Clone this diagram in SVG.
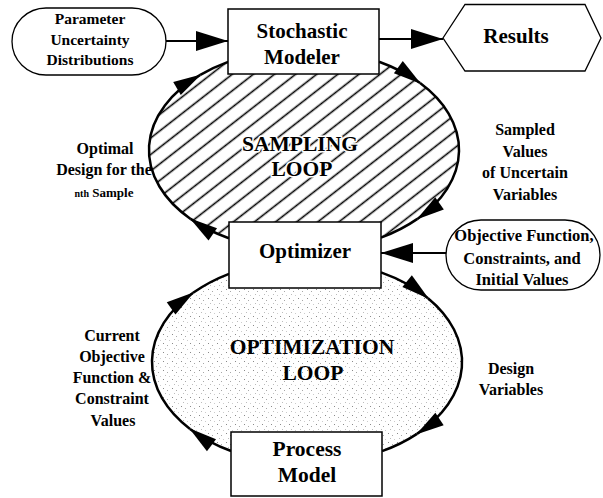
<svg xmlns="http://www.w3.org/2000/svg" width="603" height="498" viewBox="0 0 603 498">
  <style>
    .box { fill: #ffffff; stroke: #000000; stroke-width: 1.5; }
    .term { fill: #ffffff; stroke: #000000; stroke-width: 1.3; }
    .title { font-family: "Liberation Serif", "Times New Roman", serif; font-weight: bold; font-size: 21px; fill: #000000; text-anchor: middle; }
    .label { font-family: "Liberation Serif", "Times New Roman", serif; font-weight: bold; font-size: 16px; fill: #000000; text-anchor: middle; }
    .loopname { font-family: "Liberation Serif", "Times New Roman", serif; font-weight: bold; font-size: 21.5px; fill: #000000; text-anchor: middle; }
    .halo { stroke: #ffffff; stroke-width: 3; paint-order: stroke; stroke-linejoin: round; }
    .arc { fill: none; stroke: #000000; stroke-width: 2.5; marker-end: url(#loopHead); }
    .arc-plain { fill: none; stroke: #000000; stroke-width: 2.5; }
    .flow { fill: none; stroke: #000000; stroke-width: 2.2; marker-end: url(#bigHead); }
  </style>
  <defs>
    <!-- diagonal hatching for the sampling loop -->
    <pattern id="hatch" patternUnits="userSpaceOnUse" width="13" height="13" patternTransform="rotate(-38)">
      <line x1="0" y1="6.5" x2="13" y2="6.5" stroke="#000000" stroke-width="1.6"/>
    </pattern>
    <!-- light stipple for the optimization loop -->
    <pattern id="stipple" patternUnits="userSpaceOnUse" width="9" height="9">
      <rect x="1" y="1" width="1" height="1" fill="#8a8a8a"/>
      <rect x="5" y="3" width="1" height="1" fill="#a8a8a8"/>
      <rect x="3" y="6" width="1" height="1" fill="#bcbcbc"/>
      <rect x="7" y="7" width="1" height="1" fill="#cccccc"/>
    </pattern>
    <marker id="loopHead" markerUnits="userSpaceOnUse" markerWidth="28" markerHeight="15" viewBox="0 0 28 15" refX="27" refY="7.5" orient="auto" overflow="visible">
      <path d="M0,0 L28,7.5 L0,15 z" fill="#000000"/>
    </marker>
    <marker id="bigHead" markerUnits="userSpaceOnUse" markerWidth="32" markerHeight="20" viewBox="0 0 32 20" refX="32" refY="10" orient="auto">
      <path d="M0,0 L32,10 L0,20 z" fill="#000000"/>
    </marker>
  </defs>

  <rect x="0" y="0" width="603" height="498" fill="#ffffff"/>

  <!-- loop regions -->
  <g id="sampling-loop">
    <ellipse cx="304" cy="150" rx="155" ry="101" fill="#ffffff"/>
    <ellipse cx="304" cy="150" rx="155" ry="101" fill="url(#hatch)"/>
    <text class="loopname halo" x="300" y="151">SAMPLING</text>
    <text class="loopname halo" x="302" y="176">LOOP</text>
  </g>
  <g id="optimization-loop">
    <ellipse cx="307" cy="362" rx="155" ry="102" fill="#ffffff"/>
    <ellipse cx="307" cy="362" rx="155" ry="102" fill="url(#stipple)"/>
    <text class="loopname" x="312" y="354">OPTIMIZATION</text>
    <text class="loopname" x="313" y="380">LOOP</text>
  </g>

  <!-- connectors -->
  <g id="connectors">
    <!-- inputs and outputs -->
    <path class="flow" d="M166,41 L228,41"/>
    <path class="flow" d="M379,39 L443,39"/>
    <path class="flow" d="M446,253 L381,253"/>
    <!-- sampling loop, clockwise -->
    <path class="arc" d="M379.1,61.7 A155,101 0 0 1 420.1,83.1"/>
    <path class="arc" d="M420.1,83.1 A155,101 0 0 1 417.4,218.9"/>
    <path class="arc-plain" d="M417.4,218.9 A155,101 0 0 1 381,237.6"/>
    <path class="arc" d="M228.9,238.3 A155,101 0 0 1 190.6,218.9"/>
    <path class="arc" d="M190.6,218.9 A155,101 0 0 1 200.3,74.9"/>
    <path class="arc-plain" d="M200.3,74.9 A155,101 0 0 1 228.1,61.9"/>
    <!-- optimization loop, clockwise -->
    <path class="arc" d="M381,272.4 A155,102 0 0 1 428,298.2"/>
    <path class="arc" d="M428,298.2 A155,102 0 0 1 417,433.9"/>
    <path class="arc-plain" d="M417,433.9 A155,102 0 0 1 382.1,451.2"/>
    <path class="arc" d="M231.1,451 A155,102 0 0 1 190,428.9"/>
    <path class="arc" d="M190,428.9 A155,102 0 0 1 193.1,292.8"/>
    <path class="arc-plain" d="M193.1,292.8 A155,102 0 0 1 229,273.8"/>
  </g>

  <!-- nodes -->
  <g id="parameter-distributions">
    <rect class="term" x="12" y="8" width="154" height="67" rx="34" ry="33.5"/>
    <text class="label" style="font-size:15.5px" x="90" y="24">Parameter</text>
    <text class="label" style="font-size:15.5px" x="90" y="45">Uncertainty</text>
    <text class="label" style="font-size:15.5px" x="90" y="65">Distributions</text>
  </g>

  <g id="stochastic-modeler">
    <rect class="box" x="228" y="9" width="151" height="65"/>
    <text class="title" x="302" y="38">Stochastic</text>
    <text class="title" x="302" y="64">Modeler</text>
  </g>

  <g id="results">
    <polygon class="term" points="443,38 465,4.5 585,4.5 601,38 585,71 465,71"/>
    <text class="title" x="516" y="43">Results</text>
  </g>

  <g id="optimizer">
    <rect class="box" x="229" y="222" width="152" height="66"/>
    <text class="title" x="305" y="258">Optimizer</text>
  </g>

  <g id="objective-inputs">
    <rect class="term" x="446" y="220" width="154" height="70" rx="35" ry="35"/>
    <text class="label" style="font-size:16.5px" x="524" y="241">Objective Function,</text>
    <text class="label" style="font-size:16.5px" x="522" y="264">Constraints, and</text>
    <text class="label" style="font-size:16.5px" x="522" y="285">Initial Values</text>
  </g>

  <g id="process-model">
    <rect class="box" x="231" y="432" width="151" height="64"/>
    <text class="title" style="font-size:21.5px" x="307" y="456">Process</text>
    <text class="title" style="font-size:21.5px" x="307" y="482">Model</text>
  </g>

  <!-- edge labels -->
  <g id="labels">
    <text class="label" x="105" y="154">Optimal</text>
    <text class="label" x="104" y="175">Design for the</text>
    <text class="label" x="104" y="197"><tspan style="font-size:10px">nth</tspan><tspan style="font-size:13px"> Sample</tspan></text>

    <text class="label" x="525" y="135">Sampled</text>
    <text class="label" x="525" y="156.5">Values</text>
    <text class="label" x="525" y="178">of Uncertain</text>
    <text class="label" x="525" y="200">Variables</text>

    <text class="label" x="112" y="341">Current</text>
    <text class="label" x="112" y="362">Objective</text>
    <text class="label" x="112" y="383">Function &amp;</text>
    <text class="label" x="112" y="404">Constraint</text>
    <text class="label" x="113" y="426">Values</text>

    <text class="label" x="511" y="374">Design</text>
    <text class="label" x="511" y="395">Variables</text>
  </g>
</svg>
